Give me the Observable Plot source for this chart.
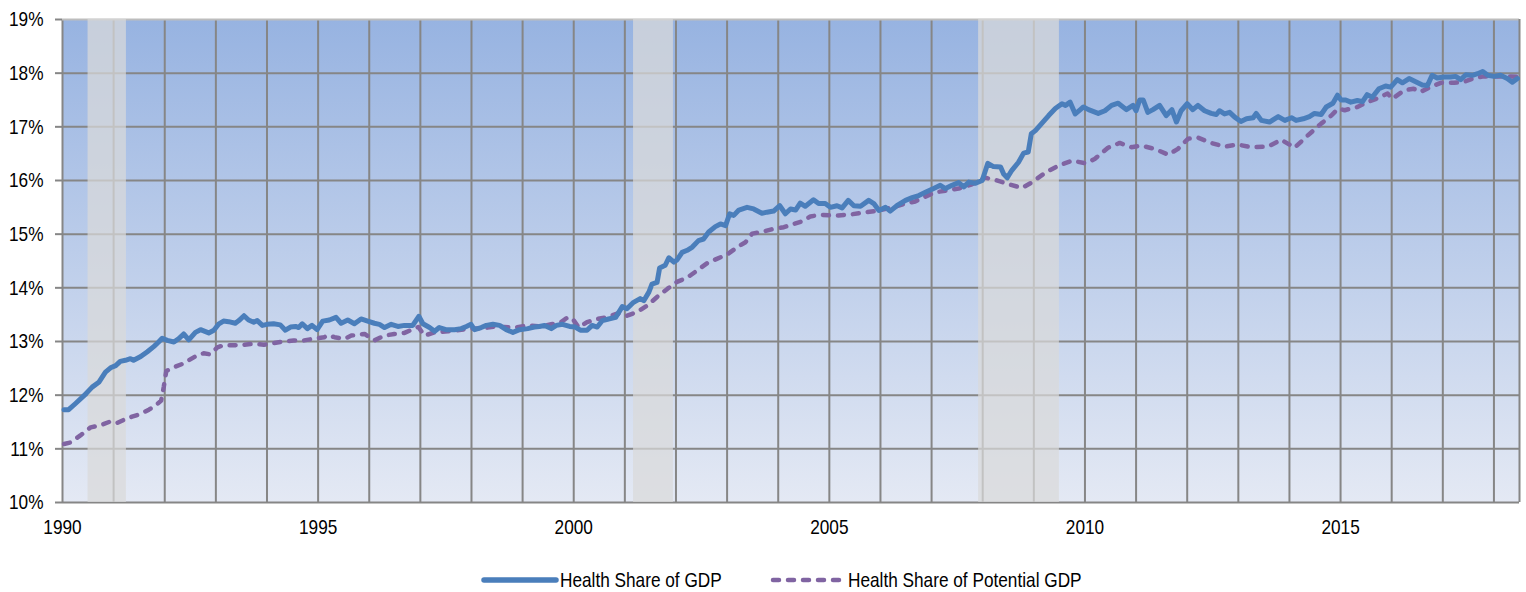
<!DOCTYPE html>
<html>
<head>
<meta charset="utf-8">
<script src="https://cdn.jsdelivr.net/npm/d3@7"></script>
<script src="https://cdn.jsdelivr.net/npm/@observablehq/plot@0.6"></script>
<style>
  html, body { margin: 0; padding: 0; background: #ffffff; }
  #wrap { position: relative; width: 1526px; height: 592px; font-family: "Liberation Sans", Arial, sans-serif; }
  #legend { position: absolute; left: 0; top: 557px; width: 1526px; height: 46px; }
  .item { position: absolute; top: 0; height: 46px; display: flex; align-items: center; font-size: 21px; color: #000; white-space: nowrap; }
  .item svg { display: block; }
  .item span { display: inline-block; transform: scaleX(0.82); transform-origin: left center; }
</style>
</head>
<body>
<div id="wrap">
  <div id="chart"></div>
  <div id="legend">
    <div class="item" style="left:481px">
      <svg width="78" height="10"><line x1="3" y1="5" x2="75" y2="5" stroke="#4a7ebb" stroke-width="5.5" stroke-linecap="round"/></svg>
      <span style="margin-left:1px">Health Share of GDP</span>
    </div>
    <div class="item" style="left:770px">
      <svg width="74" height="10"><line x1="3" y1="5" x2="71" y2="5" stroke="#8064a2" stroke-width="4.5" stroke-linecap="round" stroke-dasharray="6,9"/></svg>
      <span style="margin-left:4px">Health Share of Potential GDP</span>
    </div>
  </div>
</div>
<script>
// Health share of GDP (%)
const gdpYears = [1990.03,1990.12,1990.25,1990.42,1990.58,1990.71,1990.84,1990.94,1991.04,1991.13,1991.23,1991.33,1991.39,1991.53,1991.66,1991.79,1991.88,1991.95,1992.05,1992.18,1992.27,1992.37,1992.47,1992.60,1992.70,1992.86,1992.96,1993.06,1993.15,1993.25,1993.38,1993.45,1993.55,1993.64,1993.74,1993.81,1993.91,1994.00,1994.13,1994.26,1994.36,1994.46,1994.56,1994.62,1994.69,1994.79,1994.88,1994.98,
1995.09,1995.22,1995.35,1995.45,1995.58,1995.71,1995.84,1995.97,1996.10,1996.20,1996.30,1996.43,1996.56,1996.69,1996.85,1996.97,1997.05,1997.18,1997.28,1997.37,1997.50,1997.67,1997.80,1997.90,1997.99,1998.06,1998.19,1998.29,1998.42,1998.55,1998.68,1998.81,1998.94,1999.10,1999.23,1999.33,1999.43,1999.56,1999.66,1999.78,1999.92,
2000.03,2000.13,2000.26,2000.36,2000.46,2000.56,2000.68,2000.82,2000.95,2001.04,2001.17,2001.30,2001.37,2001.47,2001.53,2001.63,2001.68,2001.79,2001.86,2001.96,2002.02,2002.12,2002.22,2002.32,2002.44,2002.54,2002.64,2002.77,2002.87,2002.97,2003.05,2003.13,2003.23,2003.39,2003.52,2003.68,2003.78,2003.91,2004.03,2004.14,2004.24,2004.34,2004.43,2004.53,2004.69,2004.79,2004.92,
2005.02,2005.15,2005.25,2005.37,2005.48,2005.61,2005.77,2005.87,2005.97,2006.10,2006.19,2006.32,2006.49,2006.62,2006.75,2006.88,2007.04,2007.17,2007.27,2007.40,2007.53,2007.63,2007.73,2007.86,2007.99,2008.10,2008.21,2008.35,2008.41,2008.48,2008.57,2008.70,2008.80,2008.89,2008.95,2009.03,2009.16,2009.29,2009.42,2009.55,2009.62,2009.71,2009.81,2009.91,2009.97,
2010.07,2010.26,2010.39,2010.52,2010.65,2010.81,2010.94,2011.00,2011.07,2011.14,2011.23,2011.33,2011.46,2011.59,2011.70,2011.79,2011.88,2012.00,2012.11,2012.21,2012.34,2012.47,2012.57,2012.63,2012.73,2012.83,2012.93,2013.05,2013.16,2013.29,2013.35,2013.45,2013.61,2013.78,2013.91,2014.04,2014.13,2014.27,2014.39,2014.49,2014.62,2014.72,2014.85,2014.94,
2015.01,2015.10,2015.20,2015.33,2015.43,2015.52,2015.62,2015.75,2015.88,2015.98,2016.11,2016.21,2016.34,2016.47,2016.60,2016.70,2016.79,2016.89,2017.02,2017.15,2017.25,2017.35,2017.45,2017.58,2017.68,2017.78,2017.88,2018.00,2018.13,2018.26,2018.36,2018.46];
const gdpValues = [11.73,11.73,11.84,11.99,12.15,12.24,12.43,12.51,12.55,12.63,12.65,12.68,12.65,12.72,12.81,12.91,12.99,13.06,13.02,12.99,13.05,13.14,13.03,13.17,13.22,13.16,13.21,13.33,13.38,13.37,13.34,13.39,13.48,13.40,13.36,13.39,13.30,13.32,13.33,13.31,13.21,13.27,13.28,13.26,13.33,13.24,13.30,13.22,
13.38,13.40,13.45,13.34,13.40,13.33,13.42,13.38,13.34,13.32,13.26,13.32,13.28,13.30,13.30,13.47,13.33,13.26,13.19,13.26,13.22,13.22,13.24,13.28,13.32,13.22,13.26,13.30,13.32,13.30,13.22,13.17,13.22,13.24,13.27,13.28,13.30,13.24,13.30,13.32,13.28,
13.27,13.21,13.21,13.30,13.27,13.39,13.42,13.45,13.65,13.61,13.73,13.80,13.76,13.92,14.07,14.10,14.37,14.42,14.56,14.48,14.52,14.66,14.70,14.76,14.88,14.91,15.04,15.14,15.19,15.16,15.38,15.35,15.45,15.50,15.47,15.39,15.41,15.43,15.53,15.38,15.47,15.45,15.58,15.52,15.64,15.57,15.57,
15.50,15.53,15.49,15.63,15.53,15.52,15.63,15.57,15.44,15.50,15.43,15.53,15.63,15.68,15.72,15.78,15.85,15.91,15.85,15.91,15.96,15.88,15.97,15.95,16.00,16.32,16.26,16.25,16.12,16.05,16.19,16.34,16.51,16.53,16.87,16.93,17.07,17.21,17.34,17.43,17.40,17.46,17.24,17.32,17.37,
17.32,17.25,17.30,17.40,17.44,17.32,17.40,17.30,17.50,17.50,17.27,17.32,17.40,17.21,17.32,17.09,17.30,17.43,17.32,17.40,17.30,17.25,17.23,17.30,17.24,17.27,17.18,17.10,17.15,17.17,17.25,17.12,17.09,17.19,17.12,17.17,17.12,17.15,17.19,17.25,17.23,17.37,17.44,17.59,
17.50,17.50,17.46,17.49,17.47,17.60,17.55,17.71,17.76,17.74,17.88,17.82,17.90,17.84,17.78,17.77,17.96,17.91,17.93,17.93,17.94,17.88,17.97,17.96,17.99,18.03,17.96,17.94,17.96,17.90,17.83,17.90];

// Health share of potential GDP (%)
const potYears = [1990.03,1990.16,1990.35,1990.55,1990.74,1990.91,1991.04,1991.20,1991.36,1991.53,1991.69,1991.85,1991.93,1991.98,1992.03,1992.18,1992.34,1992.47,1992.63,1992.76,1992.89,1993.03,1993.15,1993.35,1993.55,1993.74,1993.94,1994.13,1994.33,1994.52,1994.72,1994.91,
1995.12,1995.19,1995.32,1995.52,1995.65,1995.91,1996.10,1996.30,1996.49,1996.69,1996.88,1996.96,1997.08,1997.28,1997.54,1997.80,1997.99,1998.19,1998.45,1998.64,1998.84,1999.10,1999.36,1999.56,1999.75,1999.88,1999.98,
2000.10,2000.26,2000.46,2000.65,2000.85,2001.04,2001.24,2001.44,2001.63,2001.83,2002.02,2002.22,2002.41,2002.61,2002.80,2003.00,2003.20,2003.36,2003.49,2003.68,2003.91,2004.11,2004.30,2004.50,2004.63,2004.82,
2005.02,2005.18,2005.44,2005.71,2005.97,2006.23,2006.49,2006.68,2006.88,2007.07,2007.27,2007.53,2007.79,2008.05,2008.25,2008.51,2008.77,2008.97,2009.23,2009.49,2009.75,
2010.01,2010.19,2010.45,2010.68,2010.91,2011.10,2011.36,2011.63,2011.82,2012.02,2012.21,2012.47,2012.73,2012.99,2013.25,2013.58,2013.84,2014.10,2014.36,2014.62,2014.82,2014.95,
2015.08,2015.33,2015.52,2015.72,2015.92,2016.01,2016.24,2016.43,2016.56,2016.76,2016.96,2017.22,2017.42,2017.62,2017.80,2018.07,2018.33,2018.46];
const potValues = [11.09,11.12,11.25,11.40,11.44,11.50,11.47,11.54,11.60,11.65,11.73,11.83,11.90,12.15,12.45,12.52,12.58,12.65,12.74,12.78,12.76,12.89,12.93,12.93,12.94,12.96,12.94,12.97,13.00,13.02,13.02,13.05,
13.08,13.12,13.08,13.05,13.11,13.14,13.02,13.11,13.14,13.16,13.24,13.27,13.11,13.17,13.19,13.22,13.24,13.24,13.28,13.27,13.26,13.30,13.28,13.32,13.36,13.45,13.42,
13.26,13.36,13.42,13.45,13.52,13.48,13.55,13.67,13.83,13.98,14.11,14.19,14.32,14.46,14.54,14.62,14.76,14.85,15.01,15.04,15.10,15.13,15.19,15.25,15.33,15.36,
15.35,15.35,15.37,15.41,15.44,15.50,15.57,15.61,15.70,15.78,15.81,15.85,15.93,16.05,16.01,15.93,15.86,15.97,16.15,16.28,16.37,
16.32,16.40,16.61,16.70,16.62,16.65,16.59,16.48,16.59,16.78,16.80,16.70,16.63,16.67,16.62,16.63,16.76,16.61,16.84,17.06,17.21,17.34,
17.31,17.37,17.46,17.53,17.62,17.52,17.68,17.71,17.65,17.74,17.82,17.82,17.84,17.91,17.94,17.94,17.94,17.93];

// Recessions (shaded)
const recessionStart = [1990.5, 2001.17, 2007.92];
const recessionEnd = [1991.25, 2001.95, 2009.5];

// Axis ticks
const yTicks = [10, 11, 12, 13, 14, 15, 16, 17, 18, 19];
const xLabelTicks = [1990, 1995, 2000, 2005, 2010, 2015];
const xGridYears = d3.range(1990, 2019);

const gdp = gdpYears.map((t, i) => ({t, v: gdpValues[i]}));
const pot = potYears.map((t, i) => ({t, v: potValues[i]}));
const recessions = recessionStart.map((s, i) => ({s, e: recessionEnd[i]}));

const chart = Plot.plot({
  width: 1526,
  height: 545,
  marginLeft: 62,
  marginRight: 7,
  marginTop: 19,
  marginBottom: 43,
  style: {fontFamily: '"Liberation Sans", Arial, sans-serif', fontSize: "21px", color: "#000", background: "transparent", overflow: "visible"},
  x: {domain: [1990, 2018.5]},
  y: {domain: [10, 19]},
  marks: [
    Plot.frame({fill: "url(#bgGrad)", stroke: "none"}),
    Plot.gridX(xGridYears, {stroke: "#868686", strokeOpacity: 1, strokeWidth: 2}),
    Plot.gridY(yTicks.slice(0, -1), {stroke: "#868686", strokeOpacity: 1, strokeWidth: 2}),
    Plot.ruleY([19], {stroke: "#bdbdbd", strokeWidth: 2}),
    Plot.ruleX([2018.5], {stroke: "#868686", strokeWidth: 2}),
    Plot.rect(recessions, {x1: "s", x2: "e", fill: "#dadada", fillOpacity: 0.72}),
    Plot.line(pot, {x: "t", y: "v", stroke: "#8064a2", strokeWidth: 4.5, strokeDasharray: "6,9", strokeLinecap: "round", strokeLinejoin: "round"}),
    Plot.line(gdp, {x: "t", y: "v", stroke: "#4a7ebb", strokeWidth: 5, strokeLinejoin: "round", strokeLinecap: "round"}),
    Plot.axisY(yTicks, {tickSize: 7, tickPadding: 12, stroke: "#868686", strokeWidth: 2, tickFormat: d => d + "%", label: null}),
    Plot.axisX(xLabelTicks, {tickSize: 0, tickPadding: 17, tickFormat: d => String(d), label: null})
  ]
});

const defs = d3.select(chart).insert("defs", ":first-child");
const grad = defs.append("linearGradient").attr("id", "bgGrad").attr("x1", 0).attr("y1", 0).attr("x2", 0).attr("y2", 1);
grad.append("stop").attr("offset", "0%").attr("stop-color", "#97b3e1");
grad.append("stop").attr("offset", "100%").attr("stop-color", "#e4e9f4");

document.getElementById("chart").appendChild(chart);

// Narrow the axis labels (Arial Narrow look) by compressing glyphs
d3.select(chart).selectAll("text").each(function() {
  const L = this.getComputedTextLength();
  if (L > 0) {
    this.setAttribute("textLength", (L * 0.82).toFixed(2));
    this.setAttribute("lengthAdjust", "spacingAndGlyphs");
  }
});
</script>
</body>
</html>
